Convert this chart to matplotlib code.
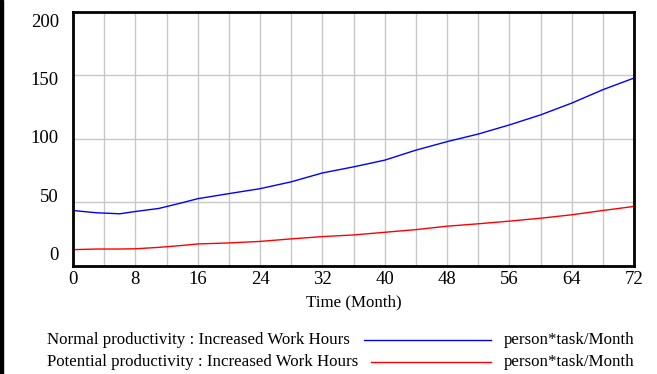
import matplotlib.pyplot as plt
from matplotlib.lines import Line2D
from matplotlib.patches import Rectangle

# data (Time in months)
time = [0, 3, 6, 8, 11, 14, 16, 20, 24, 28, 32, 36, 40, 44, 48, 52, 56, 60, 64, 68, 72]
normal = [43.4, 41.6, 40.8, 42.6, 45.0, 49.5, 52.7, 56.7, 60.6, 66.0, 73.0, 77.8, 83.1,
          91.0, 97.7, 103.7, 110.9, 118.8, 128.1, 138.7, 147.9]
potential = [12.5, 13.0, 13.0, 13.2, 14.3, 15.8, 17.0, 17.8, 19.0, 21.0, 22.8, 24.1, 26.2,
             28.3, 31.0, 32.9, 35.0, 37.3, 40.0, 43.4, 46.6]

x_ticks = list(range(0, 73, 8))
y_ticks = [0, 50, 100, 150, 200]
legend_names = ["Normal productivity : Increased Work Hours",
                "Potential productivity : Increased Work Hours"]
units = "person*task/Month"

plt.rcParams['font.family'] = ['Liberation Serif', 'DejaVu Serif']
fs_tick = 13.5
fs = 12.2

fig = plt.figure(figsize=(6.57, 3.74), dpi=100)
ax = fig.add_axes([73 / 657, 1 - 265.5 / 374, (634 - 73) / 657, (265.5 - 12) / 374])

ax.plot(time, normal, color='#0000ff', lw=1.0)
ax.plot(time, potential, color='#ff0000', lw=1.0)

ax.set_xlim(0, 72)
ax.set_ylim(0, 200)
ax.set_xticks(range(0, 73, 4))
ax.set_xticklabels([str(t) if t in x_ticks else '' for t in range(0, 73, 4)], fontsize=fs_tick)
ax.set_yticks(y_ticks)
ax.set_yticklabels([])
ax.tick_params(length=0, pad=4)
ax.grid(True, color='#c8c8c8', lw=1.0)
for s in ax.spines.values():
    s.set_linewidth(2.0)
    s.set_color('black')

# vensim puts the y labels slightly squeezed towards the middle
for v in y_ticks:
    ax.text(-0.025, 100 + (v - 100) * 0.92, str(v), transform=ax.get_yaxis_transform(),
            ha='right', va='center', fontsize=fs_tick)

fig.text(353.5 / 657, 1 - 302 / 374, "Time (Month)", ha='center', va='center', fontsize=fs)

# legend rows under the plot
rows = [(340, 364, '#0000ff'), (361.5, 371, '#ff0000')]
for name, (yp, x0, col) in zip(legend_names, rows):
    fy = 1 - yp / 374
    fig.text(47 / 657, fy, name, ha='left', va='center', fontsize=fs)
    fig.add_artist(Line2D([x0 / 657, 491 / 657], [fy, fy], color=col, lw=1.0))
    fig.text(504 / 657, fy, units, ha='left', va='center', fontsize=fs)

# black strip on the left edge
fig.add_artist(Rectangle((0, 0), 3 / 657, 1, transform=fig.transFigure, color='black'))

fig.savefig('out.png', dpi=100)
